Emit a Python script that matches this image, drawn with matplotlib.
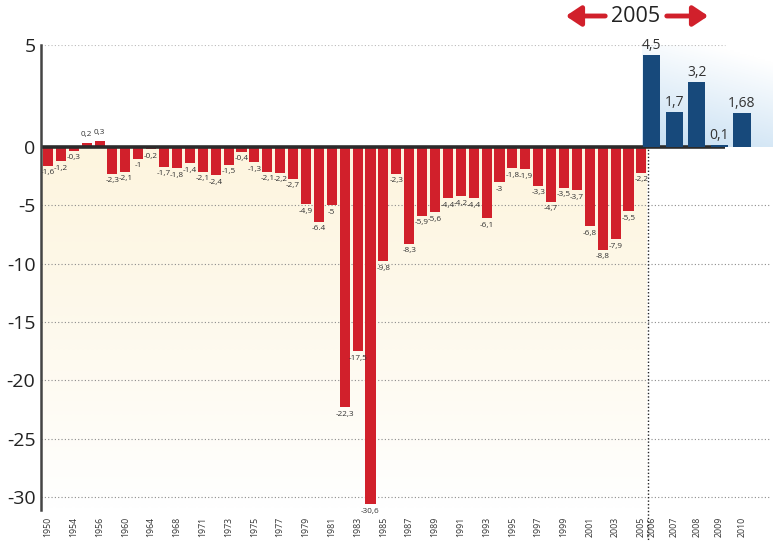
import numpy as np
import matplotlib
matplotlib.use("Agg")
import matplotlib.pyplot as plt
from matplotlib.patches import FancyArrowPatch

plt.rcParams['font.family'] = ['Open Sans', 'DejaVu Sans']

# Datos: saldo anual (rojo 1950-2005, azul 2006-2010)
red_values = [-1.6, -1.2, -0.3, 0.2, 0.3, -2.3, -2.1, -1, -0.2, -1.7,
              -1.8, -1.4, -2.1, -2.4, -1.5, -0.4, -1.3, -2.1, -2.2, -2.7,
              -4.9, -6.4, -5, -22.3, -17.5, -30.6, -9.8, -2.3, -8.3, -5.9,
              -5.6, -4.4, -4.2, -4.4, -6.1, -3, -1.8, -1.9, -3.3, -4.7,
              -3.5, -3.7, -6.8, -8.8, -7.9, -5.5, -2.2]
red_ticklabels = ['1950', '1954', '1956', '1960', '1964', '1968', '1971', '1973',
                  '1975', '1977', '1979', '1981', '1983', '1985', '1987', '1989',
                  '1991', '1993', '1995', '1997', '1999', '2001', '2003', '2005']
blue_years = ['2006', '2007', '2008', '2009', '2010']
blue_values = [4.5, 1.7, 3.2, 0.1, 1.68]
yticks = [5, 0, -5, -10, -15, -20, -25, -30]

RED = '#d1202b'
BLUE = '#17497b'
TXT = '#333333'

# escala: la parte positiva esta estirada
K = 1.75
def fwd(y):
    y = np.asarray(y, dtype=float)
    return np.where(y > 0, y * K, y)
def inv(y):
    y = np.asarray(y, dtype=float)
    return np.where(y > 0, y / K, y)

fig = plt.figure(figsize=(7.74, 5.42), dpi=100)
ax = fig.add_axes([41 / 774, 1 - 510 / 542, 1 - 41 / 774, (510 - 45) / 542])
ax.set_yscale('function', functions=(fwd, inv))

x_left, x_right = -0.54, 56.28
y_bot, y_top = -31.1, 5.0
ax.set_xlim(x_left, x_right)
ax.set_ylim(y_bot, y_top)

x_red = np.arange(len(red_values))
x_blue = 46.82 + np.arange(len(blue_values)) * 1.745
x_split = 46.5

# fondos degradados
cream = np.linspace(0, 1, 100).reshape(-1, 1)
cream_rgb = np.zeros((100, 1, 3))
top_c = np.array([253, 245, 223]) / 255
cream_rgb[:] = top_c + (np.ones(3) - top_c) * cream[:, :, None] ** 1.2
ax.imshow(cream_rgb, extent=(x_left, x_split, y_bot, 0), origin='upper',
          aspect='auto', zorder=0, interpolation='bilinear')

gy, gx = np.mgrid[0:1:60j, 0:1:60j]
base_b = np.array([197, 222, 242]) / 255
fade = np.clip(gy * 0.85 + gx * 0.3, 0, 1)[:, :, None]
blue_rgb = base_b + (np.ones(3) - base_b) * fade
ax.imshow(blue_rgb, extent=(46.05, x_right, 0, y_top), origin='lower',
          aspect='auto', zorder=0, interpolation='bilinear')

# lineas de rejilla punteadas
ax.hlines([-5, -10, -15, -20, -25, -30], x_left, 56.0, colors='#8c8c8c',
          linestyles=(0, (1, 2)), lw=0.8, zorder=1)
ax.hlines([5], x_left, 52.5, colors='#bbbbbb', linestyles=(0, (1, 2)), lw=0.8, zorder=1)

ax.bar(x_red, red_values, width=0.78, color=RED, zorder=2)
ax.hlines(0, x_left, 52.5, colors='#2b2b2b', lw=2.6, zorder=3)
ax.bar(x_blue, blue_values, width=1.32, color=BLUE, zorder=4)

# linea vertical de separacion
frac0 = (0 - y_bot) / (fwd(y_top) - y_bot)
ax.axvline(x_split, ymin=-0.07, ymax=frac0, color='#222222', lw=1.0,
           linestyle=(0, (1, 1.5)), clip_on=False, zorder=3)

# etiquetas de valores
for i, v in enumerate(red_values):
    s = f"{v:g}"
    if i != 21:
        s = s.replace('.', ',')
    if v >= 0:
        ax.text(x_red[i], v + 0.25, s, ha='center', va='bottom', fontsize=5.9, color=TXT)
    else:
        ax.text(x_red[i], v - 0.3, s, ha='center', va='top', fontsize=5.9, color=TXT)
for xb, v in zip(x_blue, blue_values):
    ax.text(xb, v + 0.1, f"{v:g}".replace('.', ','), ha='center', va='bottom',
            fontsize=10, color=TXT)

ax.set_yticks(yticks)
ax.set_yticklabels([str(t) for t in yticks], fontsize=14, color='#222222')
ax.set_xticks(list(x_red[::2]) + list(x_blue))
ax.set_xticklabels(red_ticklabels + blue_years, rotation=90, fontsize=6.3, color=TXT)
ax.tick_params(axis='y', length=0, pad=4)
ax.tick_params(axis='x', length=0, pad=5)

for s in ['top', 'right', 'bottom']:
    ax.spines[s].set_visible(False)
ax.spines['left'].set_color('#444444')
ax.spines['left'].set_linewidth(1.8)
ax.spines['left'].set_zorder(5)

# titulo con flechas
def fp(x, y):
    return (x / 774, 1 - y / 542)

fig.text(*fp(636, 17), '2005', ha='center', va='center', fontsize=15.5, color='#222222')
for x0, x1 in [(608, 563), (664, 711)]:
    fig.add_artist(FancyArrowPatch(fp(x0, 16), fp(x1, 16), transform=fig.transFigure,
                                   arrowstyle='-|>,head_length=6,head_width=4',
                                   lw=3.5, color=RED, mutation_scale=1.5))

fig.savefig('out.png', dpi=100)
